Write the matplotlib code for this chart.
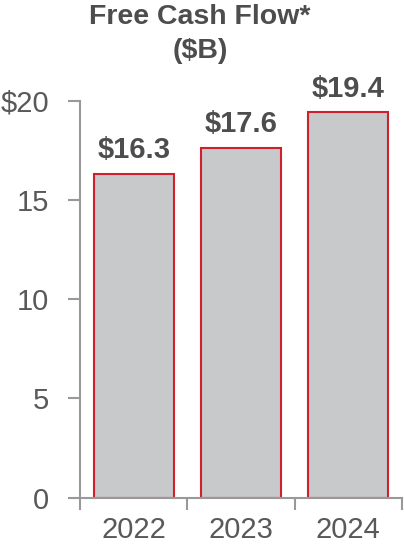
import matplotlib
matplotlib.use("Agg")
import matplotlib.pyplot as plt

years = ["2022", "2023", "2024"]
fcf = [16.3, 17.6, 19.4]
value_labels = ["$16.3", "$17.6", "$19.4"]
yticks = [0, 5, 10, 15, 20]
ytick_labels = ["0", "5", "10", "15", "$20"]

plt.rcParams['font.family'] = ['Liberation Sans', 'DejaVu Sans']

fig = plt.figure(figsize=(4.04, 5.5), dpi=100)
ax = fig.add_axes([80/404, 1-497.7/550, 322/404, (497.7-100.5)/550])

x = list(range(len(years)))
bars = ax.bar(x, fcf, width=0.745, color="#c8c9cb", edgecolor="#d0202e", linewidth=1.5)

for xi, v, lab in zip(x, fcf, value_labels):
    ax.annotate(lab, (xi, v), xytext=(0, 7), textcoords="offset points",
                ha="center", va="bottom", fontsize=21, fontweight="bold",
                color="#4d4d4d", annotation_clip=False)

ax.set_xlim(-0.5, 2.5)
ax.set_ylim(0, 20)
ax.set_yticks(yticks)
ax.set_yticklabels(ytick_labels)
ax.set_xticks(x)
ax.set_xticklabels(years)
ax.set_xticks([-0.5, 0.5, 1.5, 2.5], minor=True)

for s in ["top", "right"]:
    ax.spines[s].set_visible(False)
for s in ["left", "bottom"]:
    ax.spines[s].set_color("#999999")
    ax.spines[s].set_linewidth(1.5)

ax.tick_params(axis="y", length=8.6, width=1.5, color="#999999", pad=13.5,
               labelsize=21, labelcolor="#595959")
ax.tick_params(axis="x", which="major", length=0, pad=13,
               labelsize=21, labelcolor="#595959")
ax.tick_params(axis="x", which="minor", length=8.6, width=1.5, color="#999999")

fig.text(200/404, 1-17/550, "Free Cash Flow*", ha="center", va="center",
         fontsize=20.5, fontweight="bold", color="#4d4d4d")
fig.text(200/404, 1-51/550, "($B)", ha="center", va="center",
         fontsize=20.5, fontweight="bold", color="#4d4d4d")

fig.savefig("out.png", dpi=100)
